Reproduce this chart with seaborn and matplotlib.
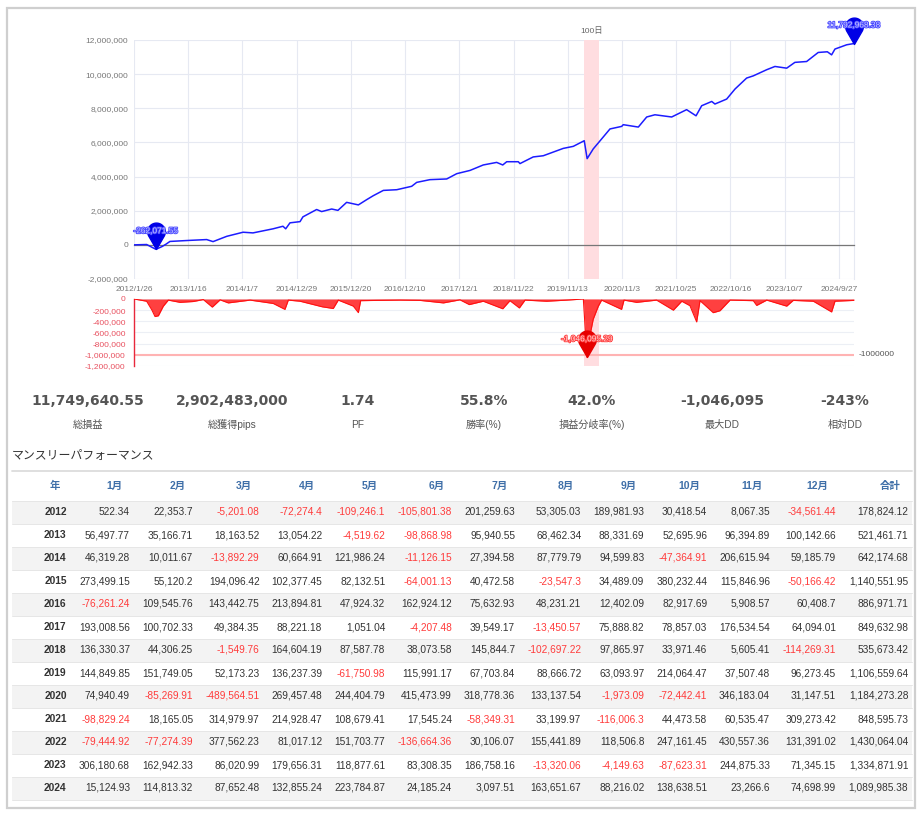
import numpy as np
import pandas as pd
import matplotlib
matplotlib.use("Agg")
import matplotlib.pyplot as plt
import seaborn as sns
from matplotlib.path import Path
from matplotlib.patches import Rectangle
import matplotlib.ticker as mticker
import matplotlib.patheffects as pe
import matplotlib.transforms as mtransforms

# ---------------- data ----------------
START = pd.Timestamp("2012-01-26")

equity_day = [0, 83, 144, 184, 210, 236, 360, 477, 519, 609, 716, 781, 913, 978, 996, 1024,
              1090, 1109, 1199, 1232, 1298, 1339, 1396, 1473, 1528, 1571, 1637, 1725, 1823,
              1856, 1943, 2053, 2119, 2206, 2293, 2381, 2421, 2447, 2523, 2534, 2621, 2687,
              2818, 2884, 2956, 2975, 3015, 3048, 3125, 3202, 3212, 3311, 3366, 3420, 3530,
              3628, 3690, 3727, 3793, 3814, 3891, 3946, 4022, 4066, 4154, 4208, 4285, 4339,
              4416, 4492, 4552, 4580, 4602, 4679, 4727]
equity_value = [0, 20000, -262071.55, -100000, 40000, 200000, 260000, 310000, 190000, 500000,
                740000, 700000, 940000, 1090000, 940000, 1290000, 1360000, 1640000, 2070000,
                1950000, 2100000, 2020000, 2490000, 2340000, 2650000, 2880000, 3190000,
                3230000, 3430000, 3660000, 3820000, 3860000, 4170000, 4360000, 4680000,
                4830000, 4680000, 4870000, 4870000, 4760000, 5150000, 5220000, 5650000,
                5770000, 6100000, 5050000, 5620000, 5970000, 6790000, 6940000, 7040000,
                6900000, 7490000, 7620000, 7490000, 7920000, 7560000, 8150000, 8400000,
                8250000, 8540000, 9130000, 9770000, 9900000, 10260000, 10450000, 10350000,
                10690000, 10740000, 11270000, 11310000, 11130000, 11470000, 11720000,
                11792968.38]

dd_day = [0, 83, 118, 138, 160, 192, 225, 302, 389, 455, 514, 565, 619, 762, 914, 991, 1013,
          1090, 1236, 1308, 1341, 1440, 1473, 1488, 1593, 1746, 1878, 2031, 2140, 2201, 2293,
          2421, 2468, 2530, 2567, 2709, 2841, 2950, 2965, 2975, 2990, 3015, 3048, 3070, 3201,
          3217, 3300, 3431, 3541, 3596, 3650, 3694, 3716, 3803, 3847, 3913, 4066, 4088, 4154,
          4285, 4328, 4460, 4580, 4602, 4727]
dd_value = [0, -40000, -200000, -314000, -300000, -130000, -20000, -60000, -45000, -10000,
            -145000, -15000, -70000, -20000, -80000, -186000, -20000, -40000, -140000,
            -170000, -20000, -128000, -244000, -30000, -25000, -20000, -25000, -70000,
            -15000, -100000, -40000, -175000, -30000, -160000, -20000, -40000, -20000, 0,
            -650000, -1046095.29, -700000, -360000, -130000, -20000, -186000, -20000,
            -60000, -20000, -200000, -40000, -120000, -410000, -30000, -245000, -210000,
            -20000, -30000, -115000, -20000, -128000, -25000, -40000, -232000, -40000,
            -25000]

x_tick_labels = ["2012/1/26", "2013/1/16", "2014/1/7", "2014/12/29", "2015/12/20",
                 "2016/12/10", "2017/12/1", "2018/11/22", "2019/11/13", "2020/11/3",
                 "2021/10/25", "2022/10/16", "2023/10/7", "2024/9/27"]

band_start_day = 2954
band_days = 100
band_label = "100日"
dd_line_level = -1000000

stat_values = ["11,749,640.55", "2,902,483,000", "1.74", "55.8%", "42.0%", "-1,046,095", "-243%"]
stat_names = ["総損益", "総獲得pips", "PF", "勝率(%)", "損益分岐率(%)", "最大DD", "相対DD"]

table_title = "マンスリーパフォーマンス"
header = ["年", "1月", "2月", "3月", "4月", "5月", "6月", "7月", "8月", "9月", "10月",
          "11月", "12月", "合計"]
years = [2012, 2013, 2014, 2015, 2016, 2017, 2018, 2019, 2020, 2021, 2022, 2023, 2024]
y2012 = [522.34, 22353.7, -5201.08, -72274.4, -109246.1, -105801.38, 201259.63, 53305.03, 189981.93, 30418.54, 8067.35, -34561.44]
y2013 = [56497.77, 35166.71, 18163.52, 13054.22, -4519.62, -98868.98, 95940.55, 68462.34, 88331.69, 52695.96, 96394.89, 100142.66]
y2014 = [46319.28, 10011.67, -13892.29, 60664.91, 121986.24, -11126.15, 27394.58, 87779.79, 94599.83, -47364.91, 206615.94, 59185.79]
y2015 = [273499.15, 55120.2, 194096.42, 102377.45, 82132.51, -64001.13, 40472.58, -23547.3, 34489.09, 380232.44, 115846.96, -50166.42]
y2016 = [-76261.24, 109545.76, 143442.75, 213894.81, 47924.32, 162924.12, 75632.93, 48231.21, 12402.09, 82917.69, 5908.57, 60408.7]
y2017 = [193008.56, 100702.33, 49384.35, 88221.18, 1051.04, -4207.48, 39549.17, -13450.57, 75888.82, 78857.03, 176534.54, 64094.01]
y2018 = [136330.37, 44306.25, -1549.76, 164604.19, 87587.78, 38073.58, 145844.7, -102697.22, 97865.97, 33971.46, 5605.41, -114269.31]
y2019 = [144849.85, 151749.05, 52173.23, 136237.39, -61750.98, 115991.17, 67703.84, 88666.72, 63093.97, 214064.47, 37507.48, 96273.45]
y2020 = [74940.49, -85269.91, -489564.51, 269457.48, 244404.79, 415473.99, 318778.36, 133137.54, -1973.09, -72442.41, 346183.04, 31147.51]
y2021 = [-98829.24, 18165.05, 314979.97, 214928.47, 108679.41, 17545.24, -58349.31, 33199.97, -116006.3, 44473.58, 60535.47, 309273.42]
y2022 = [-79444.92, -77274.39, 377562.23, 81017.12, 151703.77, -136664.36, 30106.07, 155441.89, 118506.8, 247161.45, 430557.36, 131391.02]
y2023 = [306180.68, 162942.33, 86020.99, 179656.31, 118877.61, 83308.35, 186758.16, -13320.06, -4149.63, -87623.31, 244875.33, 71345.15]
y2024 = [15124.93, 114813.32, 87652.48, 132855.24, 223784.87, 24185.24, 3097.51, 163651.67, 88216.02, 138638.51, 23266.6, 74698.99]
totals = [178824.12, 521461.71, 642174.68, 1140551.95, 886971.71, 849632.98, 535673.42,
          1106559.64, 1184273.28, 848595.73, 1430064.04, 1334871.91, 1089985.38]

# ---------------- style ----------------
sns.set_theme(style="white")
plt.rcParams["font.family"] = ["Liberation Sans", "Noto Sans CJK JP", "DejaVu Sans"]
CJK = ["Liberation Sans", "Noto Sans CJK JP", "DejaVu Sans"]

W_PX, H_PX = 922, 816
fig = plt.figure(figsize=(W_PX / 100, H_PX / 100), dpi=100)
fig.patch.set_facecolor("white")


def frac_rect(x0, y0, x1, y1):
    return [x0 / W_PX, 1 - y1 / H_PX, (x1 - x0) / W_PX, (y1 - y0) / H_PX]


eq_dates = START + pd.to_timedelta(equity_day, unit="D")
dd_dates = START + pd.to_timedelta(dd_day, unit="D")
tick_dates = pd.to_datetime(x_tick_labels, format="%Y/%m/%d")
band_start = START + pd.Timedelta(days=band_start_day)
band_end = band_start + pd.Timedelta(days=band_days)
x_left, x_right = eq_dates[0], eq_dates[-1]

# pin marker path (tip at origin)
theta = np.deg2rad(np.linspace(-30, 210, 60))
pin_verts = [(0.0, 0.0)] + [(np.cos(t), 2.0 + np.sin(t)) for t in theta] + [(0.0, 0.0)]
pin_codes = [Path.MOVETO] + [Path.LINETO] * (len(pin_verts) - 2) + [Path.CLOSEPOLY]
PIN = Path(pin_verts, pin_codes)
PIN_MS = 38
PIN_OFF = PIN_MS * 0.5 * 2.0 / 3.0


def pin(ax, x, y, color, text, tcolor, scolor):
    ax.plot([x], [y], marker=PIN, ms=PIN_MS, color=color, mec=color, clip_on=False,
            zorder=8, linestyle="none")
    ax.annotate(text, xy=(x, y), xytext=(0, PIN_OFF), textcoords="offset points",
                ha="center", va="center", fontsize=6, color=tcolor, zorder=9,
                annotation_clip=False,
                path_effects=[pe.withStroke(linewidth=1.3, foreground=scolor)])


# ---------------- main equity chart ----------------
ax = fig.add_axes(frac_rect(134, 40, 854, 279))
ax.axvspan(band_start, band_end, color="#ffdde0", lw=0, zorder=1)
sns.lineplot(x=eq_dates, y=equity_value, ax=ax, color="#1c1cff", linewidth=1.1, zorder=3)
ax.set_xlim(x_left, x_right)
ax.set_ylim(-2e6, 12e6)
ax.set_yticks(np.arange(-2e6, 12.1e6, 2e6))
ax.yaxis.set_major_formatter(mticker.FuncFormatter(lambda v, p: f"{v:,.0f}"))
ax.set_xticks(tick_dates)
ax.tick_params(axis="x", labelbottom=False, length=4, width=0.8, color="#777", direction="out")
ax.tick_params(axis="y", labelsize=6, labelcolor="#777", length=0, pad=4)
ax.grid(True, color="#e6e9f2", lw=0.8)
ax.set_axisbelow(True)
for s in ["left", "top"]:
    ax.spines[s].set_visible(False)
ax.spines["right"].set_color("#e6e9f2")
ax.spines["right"].set_linewidth(0.8)
ax.spines["bottom"].set_position(("data", 0))
ax.spines["bottom"].set_color("#777")
ax.spines["bottom"].set_linewidth(0.9)
ax.set_xlabel("")
ax.set_ylabel("")
ax.annotate(band_label, xy=(band_start + pd.Timedelta(days=band_days / 2), 1.0),
            xycoords=("data", "axes fraction"), xytext=(0, 6.5), textcoords="offset points",
            ha="center", va="center", fontsize=6, color="#666", family=CJK)

imin = int(np.argmin(equity_value))
imax = int(np.argmax(equity_value))
pin(ax, eq_dates[imin], equity_value[imin], "#0000e6", f"{equity_value[imin]:,.2f}", "#c8c8ff", "#4a4aff")
pin(ax, eq_dates[imax], equity_value[imax], "#0000e6", f"{equity_value[imax]:,.2f}", "#c8c8ff", "#4a4aff")

# ---------------- drawdown chart ----------------
ax2 = fig.add_axes(frac_rect(134, 299, 854, 366))
ax2.axvspan(band_start, band_end, color="#ffdde0", lw=0, zorder=1)
ax2.fill_between(dd_dates, dd_value, 0, color="#ff3030", alpha=0.92, lw=0, zorder=3)
sns.lineplot(x=dd_dates, y=dd_value, ax=ax2, color="#ff1010", linewidth=0.8, zorder=4)
ax2.axhline(dd_line_level, color="#ffb3b3", lw=1.5, zorder=2)
ax2.set_xlim(x_left, x_right)
ax2.set_ylim(-1.2e6, 0)
ax2.set_yticks(np.arange(-1.2e6, 1, 2e5))
ax2.yaxis.set_major_formatter(mticker.FuncFormatter(lambda v, p: f"{v:,.0f}"))
ax2.tick_params(axis="y", labelsize=6, labelcolor="#e8505f", length=0, pad=6)
ax2.xaxis.tick_top()
ax2.set_xticks(tick_dates)
ax2.set_xticklabels(x_tick_labels)
ax2.tick_params(axis="x", labelsize=6, labelcolor="#777", length=0, pad=4)
ax2.grid(True, axis="y", color="#eceff5", lw=0.8)
ax2.set_axisbelow(True)
for s in ["right", "top", "bottom"]:
    ax2.spines[s].set_visible(False)
ax2.spines["left"].set_color("#e8283c")
ax2.spines["left"].set_linewidth(1.0)
ax2.set_xlabel("")
ax2.set_ylabel("")
ax2.text(1.0, dd_line_level, f"{dd_line_level}",
         transform=mtransforms.blended_transform_factory(ax2.transAxes, ax2.transData),
         ha="left", va="center", fontsize=6, color="#555")
ax2.annotate(f"{dd_line_level}", xy=(1.0, 0), alpha=0)
jmin = int(np.argmin(dd_value))
pin(ax2, dd_dates[jmin], dd_value[jmin], "#e60000", f"{dd_value[jmin]:,.2f}", "#ffd0d0", "#ff4040")
# shift the -1000000 label slightly right
for t in ax2.texts:
    if t.get_text() == f"{dd_line_level}":
        t.set_position((1.006, dd_line_level))

# ---------------- stats + table overlay ----------------
axT = fig.add_axes([0, 0, 1, 1], zorder=-1)
axT.set_xlim(0, W_PX)
axT.set_ylim(H_PX, 0)
axT.axis("off")
axT.add_patch(Rectangle((7, 8), 908, 800, fill=False, ec="#cfcfcf", lw=1.6))

stat_x = [88, 232, 358, 484, 592, 722, 845]
for cx, v, n in zip(stat_x, stat_values, stat_names):
    axT.text(cx, 401, v, ha="center", va="center", fontsize=10, fontweight="bold",
             color="#555", family="DejaVu Sans")
    axT.text(cx, 425, n, ha="center", va="center", fontsize=7.3, color="#555", family=CJK)

axT.text(12, 456, table_title, ha="left", va="center", fontsize=8.6, color="#333", family=CJK)
axT.plot([12, 912], [470.5, 470.5], color="#dcdcdc", lw=1.3)

right_edges = [130, 193, 259.5, 322.3, 385.3, 452, 515, 581.3, 644.3, 707.3, 770, 836, 908.3]
head_y = 486
axT.text(55, head_y, header[0], ha="center", va="center", fontsize=7.5, fontweight="bold",
         color="#3f6fa8", family=CJK)
for re_, h in zip(right_edges, header[1:]):
    axT.text(re_ - 7.5, head_y, h, ha="right", va="center", fontsize=7.5, fontweight="bold",
             color="#3f6fa8", family=CJK)
axT.plot([12, 912], [500.5, 500.5], color="#e6e6e6", lw=0.7)


def fmt(v):
    s = f"{v:,.2f}"
    s = s.rstrip("0").rstrip(".")
    return s


rows = [y2012, y2013, y2014, y2015, y2016, y2017, y2018, y2019, y2020, y2021, y2022, y2023, y2024]
for i, (yr, vals, tot) in enumerate(zip(years, rows, totals)):
    yc = 512 + i * 23
    if i % 2 == 0:
        axT.add_patch(Rectangle((12, yc - 11.5), 900, 23, fc="#f3f3f3", ec="none", zorder=0))
    axT.plot([12, 912], [yc + 11.5, yc + 11.5], color="#e6e6e6", lw=0.7, zorder=1)
    axT.text(66.7, yc, str(yr), ha="right", va="center", fontsize=7.4, fontweight="bold",
             color="#333", zorder=2)
    for re_, v in zip(right_edges, vals + [tot]):
        axT.text(re_, yc, fmt(v), ha="right", va="center", fontsize=7.3,
                 color="#ff3b3b" if v < 0 else "#333", zorder=2)

fig.savefig("out.png", dpi=100, facecolor="white")
